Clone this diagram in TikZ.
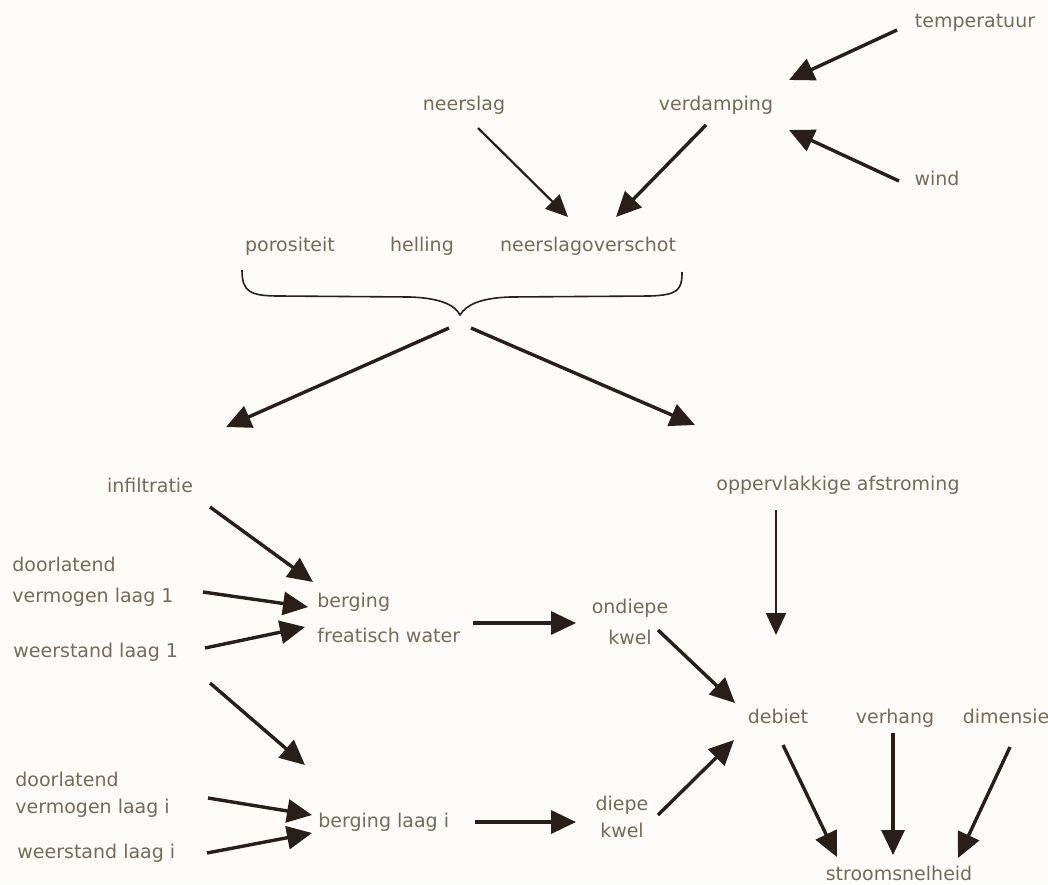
\documentclass[tikz,border=0pt]{standalone}
\usepackage{fontspec}
\setmainfont{DejaVu Sans}
\usetikzlibrary{arrows.meta}
\definecolor{inkbrown}{RGB}{42,30,24}
\definecolor{labelgray}{RGB}{118,106,88}
\definecolor{paper}{RGB}{253,252,248}

\begin{document}
\begin{tikzpicture}[x=0.5pt,y=-0.5pt,
  lbl/.style={inner sep=0pt, text=labelgray, font=\fontsize{9.5}{15.5}\selectfont},
  flow/.style={draw=inkbrown, line width=1.7pt, -{Triangle[length=12.5pt,width=11.5pt]}},
  thinflow/.style={draw=inkbrown, line width=1.1pt, -{Triangle[length=11pt,width=10pt]}},
  bracket/.style={draw=inkbrown, line width=0.8pt}]
\fill[paper] (0,0) rectangle (1048,884);
\useasboundingbox (0,0) rectangle (1048,884);

%top: weather terms
\node[lbl, anchor=mid] (temp) at (975,22) {temperatuur};
\node[lbl, anchor=mid] (neer) at (464,105) {neerslag};
\node[lbl, anchor=mid] (verd) at (716,105) {verdamping};
\node[lbl, anchor=mid] (wind) at (937,180) {wind};
\node[lbl, anchor=mid] (poros) at (290,246) {porositeit};
\node[lbl, anchor=mid] (helling) at (422,246) {helling};
\node[lbl, anchor=mid] (overschot) at (588,246) {neerslagoverschot};

%brace under the three terms
\draw[bracket] (242,270) .. controls (242,292) and (250,296) .. (280,296) -- (410,297)
  .. controls (440,298) and (455,305) .. (460,315)
  .. controls (466,305) and (480,298) .. (510,297) -- (650,296)
  .. controls (678,295) and (682,290) .. (682,272);
\coordinate (bracetip) at (460,315);

%middle and bottom
\node[lbl, anchor=mid] (infil) at (150,487) {infiltratie};
\node[lbl, anchor=mid] (opp) at (838,485) {oppervlakkige afstroming};
\node[lbl, anchor=west, align=left] (doorl1) at (12,582) {doorlatend\\vermogen laag 1};
\node[lbl, anchor=mid west] (weerst1) at (13,652) {weerstand laag 1};
\node[lbl, anchor=west, align=left] (berg1) at (317,618) {berging\\[2pt]freatisch water};
\node[lbl, align=center] (ondiep) at (630,622) {ondiepe\\kwel};
\node[lbl, anchor=west, align=left] (doorli) at (15,795) {doorlatend\\[-2pt]vermogen laag i};
\node[lbl, anchor=mid west] (weersti) at (17,853) {weerstand laag i};
\node[lbl, anchor=mid west] (bergi) at (318,822) {berging laag i};
\node[lbl, align=center] (diepe) at (622,817) {diepe\\[-2pt]kwel};
\node[lbl, anchor=mid] (debiet) at (778,718) {debiet};
\node[lbl, anchor=mid] (verhang) at (895,718) {verhang};
\node[lbl, anchor=mid] (dimensie) at (1006,718) {dimensie};
\node[lbl, anchor=mid] (stroom) at (899,875) {stroomsnelheid};

%arrows
\draw[flow] ([shift={(-78,8)}]temp.mid) -- ([shift={(73,-25)}]verd.mid);
\draw[flow] ([shift={(-38,1)}]wind.mid) -- ([shift={(73,25)}]verd.mid);
\draw[thinflow] ([shift={(14,23)}]neer.mid) -- ([shift={(-20,-29)}]overschot.mid);
\draw[flow] ([shift={(-10,20)}]verd.mid) -- ([shift={(28,-29)}]overschot.mid);
\draw[flow] ([shift={(-11,13)}]bracetip) -- ([shift={(76,-60)}]infil.mid);
\draw[flow] ([shift={(11,13)}]bracetip) -- ([shift={(-143,-60)}]opp.mid);
\draw[flow] ([shift={(60,20)}]infil.mid) -- ([shift={(-4,-36)}]berg1.west);
\draw[flow] ([shift={(191,10)}]doorl1.west) -- ([shift={(-9,-11)}]berg1.west);
\draw[flow] ([shift={(192,-4)}]weerst1.mid west) -- ([shift={(-12,9)}]berg1.west);
\draw[flow] ([shift={(197,31)}]weerst1.mid west) -- ([shift={(-13,-57)}]bergi.mid west);
\draw[flow] ([shift={(193,3)}]doorli.west) -- ([shift={(-6,-7)}]bergi.mid west);
\draw[flow] ([shift={(190,0)}]weersti.mid west) -- ([shift={(-6,11)}]bergi.mid west);
\draw[flow] ([shift={(156,5)}]berg1.west) -- ([shift={(-54,1)}]ondiep.center);
\draw[flow] ([shift={(157,0)}]bergi.mid west) -- ([shift={(-46,5)}]diepe.center);
\draw[flow] ([shift={(28,8)}]ondiep.center) -- ([shift={(-43,-15)}]debiet.mid);
\draw[flow] ([shift={(36,-2)}]diepe.center) -- ([shift={(-44,22)}]debiet.mid);
\draw[thinflow] ([shift={(-62,25)}]opp.mid) -- ([shift={(-2,-83)}]debiet.mid);
\draw[flow] ([shift={(5,27)}]debiet.mid) -- ([shift={(-62,-18)}]stroom.mid);
\draw[flow] ([shift={(-2,15)}]verhang.mid) -- ([shift={(-6,-20)}]stroom.mid);
\draw[flow] ([shift={(4,29)}]dimensie.mid) -- ([shift={(59,-17)}]stroom.mid);
\end{tikzpicture}
\end{document}
